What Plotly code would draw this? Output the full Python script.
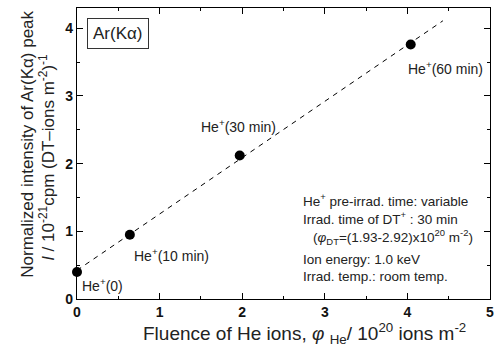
import numpy as np
import plotly.graph_objects as go

# He+ pre-irradiation fluence (1e20 ions m^-2) and normalized Ar(Kα) intensity
fluence = [0.0, 0.64, 1.97, 4.04]
intensity = [0.40, 0.95, 2.12, 3.76]
labels = ["He<sup>+</sup>(0)", "He<sup>+</sup>(10 min)", "He<sup>+</sup>(30 min)", "He<sup>+</sup>(60 min)"]
x_ticks = [0, 1, 2, 3, 4, 5]
y_ticks = [0, 1, 2, 3, 4]

# linear fit drawn as the dashed guide line
slope, intercept = np.polyfit(fluence, intensity, 1)
fit_x = np.array([0.0, 4.43])
fit_y = intercept + slope * fit_x

FONT = "Liberation Sans, Arial, sans-serif"

fig = go.Figure()
fig.add_trace(go.Scatter(x=fit_x, y=fit_y, mode="lines",
                         line=dict(color="black", width=1, dash="5px,5px"),
                         hoverinfo="skip", showlegend=False))
fig.add_trace(go.Scatter(x=fluence, y=intensity, mode="markers",
                         marker=dict(color="black", size=10),
                         showlegend=False, cliponaxis=False))

# point labels (left edge, vertical centre)
label_pos = [(0.04, 0.21), (0.67, 0.65), (1.48, 2.56), (3.98, 3.42)]
for lab, (lx, ly) in zip(labels, label_pos):
    fig.add_annotation(x=lx, y=ly, text=lab, showarrow=False, xanchor="left",
                       font=dict(size=14, color="#222", family=FONT))

# condition notes
notes = [
    (2.71, 1.46, "He<sup>+</sup> pre-irrad. time: variable"),
    (2.71, 1.20, "Irrad. time of DT<sup>+</sup> : 30 min"),
    (2.83, 0.92, "(<i>φ</i><sub>DT</sub>=(1.93-2.92)x10<sup>20</sup> m<sup>-2</sup>)"),
    (2.71, 0.59, "Ion energy: 1.0 keV"),
    (2.71, 0.33, "Irrad. temp.: room temp."),
]
for xv, yv, t in notes:
    fig.add_annotation(x=xv, y=yv, text=t, showarrow=False, xanchor="left",
                       font=dict(size=13.5, color="#222", family=FONT))

# label box
fig.add_annotation(x=0.12, y=3.92, text="Ar(Kα)", showarrow=False, xanchor="left",
                   font=dict(size=17, color="#222", family=FONT),
                   bordercolor="#333", borderwidth=1, borderpad=5, bgcolor="white")

# axis titles
fig.add_annotation(xref="paper", yref="paper", x=0.552, y=-0.117,
                   xanchor="center", yanchor="middle",
                   text="Fluence of He ions, <i>φ</i> <sub>He</sub>/ 10<sup>20</sup> ions m<sup>-2</sup>",
                   showarrow=False, font=dict(size=19, color="#222", family=FONT))
fig.add_annotation(xref="paper", yref="paper", x=-0.119, y=0.533, textangle=-90,
                   xanchor="center", yanchor="middle",
                   text="Normalized intensity of Ar(Kα) peak",
                   showarrow=False, font=dict(size=17, color="#222", family=FONT))
fig.add_annotation(xref="paper", yref="paper", x=-0.073, y=0.488, textangle=-90,
                   xanchor="center", yanchor="middle",
                   text="<i>I</i> / 10<sup>-21</sup>cpm (DT–ions m<sup>-2</sup>)<sup>-1</sup>",
                   showarrow=False, font=dict(size=17, color="#222", family=FONT))

axis_common = dict(showline=True, linecolor="black", linewidth=1.3, mirror="ticks",
                   ticks="inside", ticklen=6, tickcolor="black", showgrid=False, zeroline=False,
                   tickfont=dict(size=14, color="#111", family=FONT, weight="bold"),
                   minor=dict(ticks="inside", ticklen=3, tickcolor="black", dtick=0.5))
fig.update_xaxes(range=[0, 5], tickvals=x_ticks, **axis_common)
fig.update_yaxes(range=[0, 4.3], tickvals=y_ticks, **axis_common)

fig.update_layout(width=504, height=356, margin=dict(l=77, r=14, t=8, b=57),
                  plot_bgcolor="white", paper_bgcolor="white")

fig.write_html("out.html")
